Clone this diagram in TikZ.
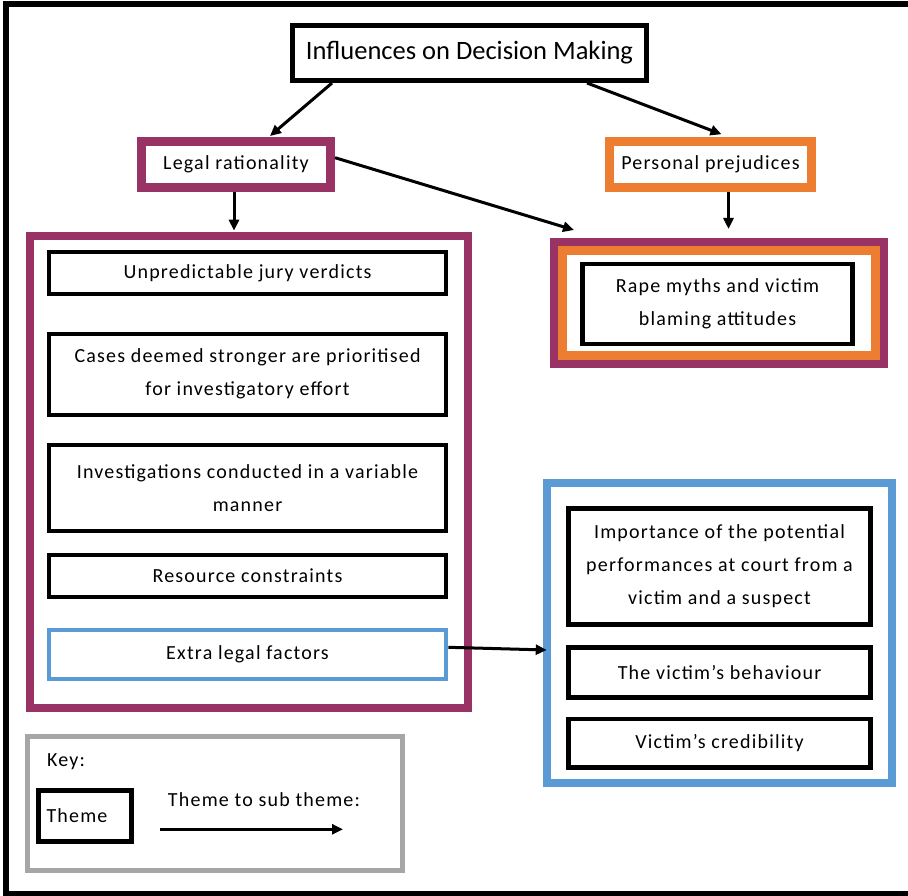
\documentclass[tikz,border=0pt]{standalone}
\usepackage{fontspec}
\setmainfont{Carlito}
\newfontfamily\boxfont{Carlito}[LetterSpace=6]
\usetikzlibrary{arrows.meta,calc}
\definecolor{plum}{HTML}{993366}
\definecolor{orng}{HTML}{ED7D31}
\definecolor{blu}{HTML}{5B9BD5}
\definecolor{gry}{HTML}{A6A6A6}
\newcommand\boxtxt{\boxfont\fontsize{20pt}{33pt}\selectfont}
\newcommand\titletxt{\fontsize{26.5pt}{30pt}\selectfont}
\begin{document}
\begin{tikzpicture}[x=1pt,y=-1pt,
  bx/.style={draw, rectangle, inner sep=0pt, align=center, font=\boxtxt},
  thin/.style={line width=4pt},
  arr/.style={line width=3pt, -{Triangle[length=11pt,width=10pt]}}]
\useasboundingbox (0,0) rectangle (908,896);
\fill[white] (0,0) rectangle (908,896);
% outer frame
\draw[line width=6pt] (915,4) -- (6,4) -- (6,893.5) -- (915,893.5);
% title and themes
\node[bx, line width=5pt, minimum width=354pt, minimum height=55pt, font=\titletxt] (title) at (469.5,53) {Influences on Decision Making};
\node[bx, draw=plum, line width=9pt, minimum width=189pt, minimum height=46pt] (legal) at (236,164.5) {Legal rationality};
\node[bx, draw=orng, line width=9pt, minimum width=202pt, minimum height=45.5pt] (personal) at (710.5,164.5) {Personal prejudices};
% left group
\node[bx, draw=plum, line width=8pt, minimum width=437.7pt, minimum height=472pt] (bigL) at (248.9,471.7) {};
\node[bx, thin, minimum width=397.6pt, minimum height=42pt] (u1) at (247.5,273) {Unpredictable jury verdicts};
\node[bx, thin, minimum width=397.6pt, minimum height=81pt] (u2) at (247.5,374.2) {Cases deemed stronger are prioritised\\for investigatory effort};
\node[bx, thin, minimum width=397.6pt, minimum height=86.8pt] (u3) at (247.5,487.9) {Investigations conducted in a variable\\manner};
\node[bx, thin, minimum width=397.6pt, minimum height=42.6pt] (u4) at (247.5,576) {Resource constraints};
\node[bx, thin, draw=blu, minimum width=397.6pt, minimum height=48.4pt] (u5) at (247.5,654.5) {Extra legal factors};
% right top group
\node[bx, draw=plum, line width=8pt, minimum width=330pt, minimum height=122pt] (rpurple) at (719,303) {};
\node[bx, draw=orng, line width=9pt, minimum width=313pt, minimum height=105pt] (rorange) at (719,303) {};
\node[bx, line width=4.5pt, minimum width=270.4pt, minimum height=79.7pt] (rape) at (717.5,303.9) {Rape myths and victim\\blaming attitudes};
% right bottom group
\node[bx, draw=blu, line width=8pt, minimum width=344.8pt, minimum height=300pt] (bigR) at (719.1,633) {};
\node[bx, line width=4.5pt, minimum width=302.4pt, minimum height=116pt] (r1) at (719.5,566.3) {Importance of the potential\\performances at court from a\\victim and a suspect};
\node[bx, line width=4.5pt, minimum width=302.4pt, minimum height=50.4pt] (r2) at (719.5,672.5) {The victim’s behaviour};
\node[bx, line width=4.5pt, minimum width=302.4pt, minimum height=48.7pt] (r3) at (719.5,743.3) {Victim’s credibility};
% key
\node[bx, draw=gry, line width=5pt, minimum width=375pt, minimum height=133.4pt] (key) at (215,803.5) {};
\node[anchor=west, inner sep=0pt, font=\boxtxt] (keylbl) at (47,762) {Key:};
\node[bx, line width=5pt, minimum height=51.3pt, text width=77pt, align=left, inner xsep=8pt] (theme) at (85,815.8) {Theme};
\node[inner sep=0pt, font=\boxtxt] (arrlbl) at (264,800) {Theme to sub theme:};
\coordinate (k1) at (160,829.3);
\coordinate (k2) at (343,829.3);
% connectors
\draw[arr] ([xshift=-137.5pt]title.south) -- ([xshift=34pt,yshift=1pt]legal.north);
\draw[arr] ([xshift=117.5pt]title.south) -- ([xshift=11pt,yshift=3pt]personal.north);
\draw[arr] ([yshift=6.8pt]legal.east) -- ([xshift=24pt,yshift=8pt]rpurple.north west);
\draw[arr] ([xshift=-2pt]legal.south) -- ([xshift=-2pt,yshift=1pt]legal.south |- bigL.north);
\draw[arr] ([xshift=18pt]personal.south) -- ([xshift=18pt,yshift=9pt]personal.south |- rpurple.north);
\draw[arr] ([yshift=7.2pt]u5.east) -- ([xshift=4pt,yshift=-17pt]bigR.west);
\draw[arr] (k1) -- (k2);
\end{tikzpicture}
\end{document}
